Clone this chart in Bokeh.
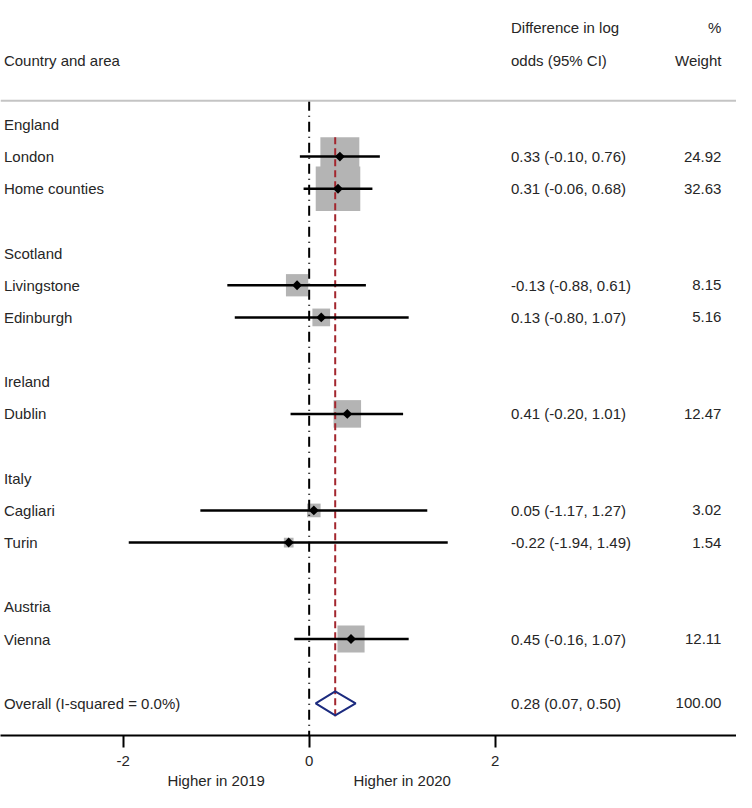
import numpy as np
from bokeh.plotting import figure
from bokeh.models import Range1d, LinearAxis, FixedTicker, Span
from bokeh.core.properties import value
from bokeh.embed import file_html
from bokeh.resources import INLINE

# ---------------- data ----------------
groups = ["England", "Scotland", "Ireland", "Italy", "Austria"]
group_rows = [3, 7, 11, 14, 18]
areas = ["London", "Home counties", "Livingstone", "Edinburgh",
         "Dublin", "Cagliari", "Turin", "Vienna"]
area_rows = [4, 5, 8, 9, 12, 15, 16, 19]
estimates = [0.33, 0.31, -0.13, 0.13, 0.41, 0.05, -0.22, 0.45]
ci_low = [-0.10, -0.06, -0.88, -0.80, -0.20, -1.17, -1.94, -0.16]
ci_high = [0.76, 0.68, 0.61, 1.07, 1.01, 1.27, 1.49, 1.07]
weights = [24.92, 32.63, 8.15, 5.16, 12.47, 3.02, 1.54, 12.11]

overall_label = "Overall (I-squared = 0.0%)"
overall_row = 21
overall_est = 0.28
overall_low = 0.07
overall_high = 0.50
overall_weight = 100.00

null_value = 0
x_ticks = [-2, 0, 2]
direction_ticks = [-1, 1]
direction_labels = ["Higher in 2019", "Higher in 2020"]

# ---------------- style / layout ----------------
FONT = "Liberation Sans"
FS = "15px"
TXT = "#262626"
BOX = "#b4b4b4"
RED = "#a3262e"
NAVY = "#1c2b7f"
X0, X1 = -3.319, 4.595
Y_TOP, Y_BOT = -0.854, 22.0
X_LEFT_TEXT = -3.282
X_CI_TEXT = 2.17
X_WT_TEXT = 4.433
BOX_K = 7.8

p = figure(frame_width=736, frame_height=735,
           x_range=Range1d(X0, X1), y_range=Range1d(Y_BOT, Y_TOP),
           output_backend="svg", toolbar_location=None,
           x_axis_location=None, y_axis_location=None, min_border=0)
p.grid.visible = False
p.outline_line_color = None
p.background_fill_color = "white"
p.border_fill_color = "white"

ax1 = LinearAxis(ticker=FixedTicker(ticks=x_ticks),
                 major_label_overrides={t: str(t) for t in x_ticks},
                 axis_line_width=2, axis_line_color="black",
                 major_tick_line_width=2, major_tick_line_color="black",
                 major_tick_out=12, major_tick_in=0,
                 minor_tick_out=0, minor_tick_in=0,
                 major_label_standoff=8,
                 major_label_text_font=FONT, major_label_text_font_size=FS,
                 major_label_text_color=TXT)
ax2 = LinearAxis(ticker=FixedTicker(ticks=direction_ticks),
                 major_label_overrides=dict(zip(direction_ticks, direction_labels)),
                 axis_line_color=None, major_tick_line_color=None,
                 minor_tick_line_color=None,
                 major_tick_out=0, major_tick_in=0,
                 minor_tick_out=0, minor_tick_in=0,
                 major_label_standoff=3,
                 major_label_text_font=FONT, major_label_text_font_size=FS,
                 major_label_text_color=TXT)
p.add_layout(ax1, "below")
p.add_layout(ax2, "below")

# header rule
p.add_layout(Span(location=2.26, dimension="width", line_color="#c4c4c4", line_width=2))

# weighted boxes
sizes = [BOX_K * np.sqrt(w) for w in weights]
p.scatter(x=estimates, y=area_rows, marker="square", size=sizes,
          fill_color=BOX, line_color=None)

# null line
p.segment(x0=[null_value], y0=[2.26], x1=[null_value], y1=[Y_BOT],
          line_color="black", line_width=2, line_dash="10 5 1 5")
# overall line
p.segment(x0=[overall_est], y0=[3.4], x1=[overall_est], y1=[overall_row + 0.5],
          line_color=RED, line_width=2, line_dash="7 4")

# confidence intervals and point estimates
p.segment(x0=ci_low, y0=area_rows, x1=ci_high, y1=area_rows,
          line_color="black", line_width=2.5)
p.scatter(x=estimates, y=area_rows, marker="square", angle=np.pi / 4, size=7,
          fill_color="black", line_color=None)

# overall diamond
h = 0.375
p.patch(x=[overall_low, overall_est, overall_high, overall_est],
        y=[overall_row, overall_row - h, overall_row, overall_row + h],
        fill_color=None, line_color=NAVY, line_width=2)

# texts
def txt(x, y, t, align="left"):
    p.text(x=x, y=y, text=t, text_font=value(FONT), text_font_size=value(FS),
           text_color=TXT, text_align=align, text_baseline="middle")

txt([X_LEFT_TEXT], [1], ["Country and area"])
txt([X_CI_TEXT, X_CI_TEXT], [0, 1], ["Difference in log", "odds (95% CI)"])
txt([X_WT_TEXT, X_WT_TEXT], [0, 1], ["%", "Weight"], align="right")

txt([X_LEFT_TEXT] * len(groups), group_rows, groups)
txt([X_LEFT_TEXT] * len(areas), area_rows, areas)
txt([X_LEFT_TEXT], [overall_row], [overall_label])

ci_text = [f"{e:.2f} ({l:.2f}, {u:.2f})" for e, l, u in zip(estimates, ci_low, ci_high)]
ci_text.append(f"{overall_est:.2f} ({overall_low:.2f}, {overall_high:.2f})")
wt_text = [f"{w:.2f}" for w in weights] + [f"{overall_weight:.2f}"]
rows_all = area_rows + [overall_row]
txt([X_CI_TEXT] * len(rows_all), rows_all, ci_text)
txt([X_WT_TEXT] * len(rows_all), rows_all, wt_text, align="right")

open("out.html", "w").write(file_html(p, INLINE))
